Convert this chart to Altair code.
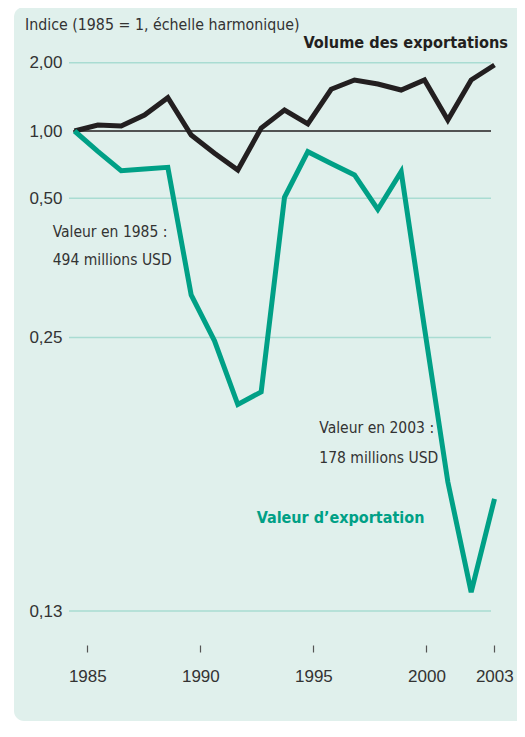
import altair as alt
import pandas as pd

# ---- data ----
years = list(range(1985, 2004))
volume_exportations = [1.00, 1.063, 1.052, 1.176, 1.402, 0.960, 0.795, 0.669, 1.030,
                       1.237, 1.074, 1.527, 1.678, 1.611, 1.516, 1.678, 1.118, 1.678, 1.954]
valeur_exportation = [1.00, 0.811, 0.664, 0.676, 0.688, 0.309, 0.248, 0.213, 0.2195,
                      0.505, 0.808, 0.716, 0.636, 0.473, 0.658, 0.262, 0.177, 0.136, 0.170]
y_ticks = [0.13, 0.25, 0.5, 1, 2]
x_ticks = [1985, 1990, 1995, 2000, 2003]
series_names = ["Volume des exportations", "Valeur d\u2019exportation"]
title_text = "Indice (1985 = 1, \u00e9chelle harmonique)"
note_1985 = ["Valeur en 1985 :", "494 millions USD"]
note_2003 = ["Valeur en 2003 :", "178 millions USD"]

# ---- styles ----
BLACK = "#231f20"
GREEN = "#00a086"
BOX = "#e0f0ec"
GRID = "#a9dcd2"
TXT = "#333333"
NARROW = "DejaVu Sans Condensed, sans-serif"
SANS = "Liberation Sans, Arial, sans-serif"

long = pd.DataFrame({
    "year": years * 2,
    "v": volume_exportations + valeur_exportation,
    "series": [series_names[0]] * len(years) + [series_names[1]] * len(years),
})

yscale = alt.Scale(type="log", domain=y_ticks, range=[571, 297.5, 158.3, 91, 22.7])
xscale = alt.Scale(domain=[1985, 2003], range=[5.5, 425.5], nice=False, zero=False)

one = pd.DataFrame({"a": [0]})

box = alt.Chart(one).mark_rect(color=BOX, cornerRadius=10).encode(
    x=alt.value(-55), x2=alt.value(470), y=alt.value(-33), y2=alt.value(681)
)

grid_df = pd.DataFrame({"v": [t for t in y_ticks if t != 1]})
grid = alt.Chart(grid_df).mark_rule(color=GRID, strokeWidth=1.5).encode(
    y=alt.Y("v:Q", scale=yscale, title=None,
            axis=alt.Axis(values=y_ticks, grid=False, domain=False, ticks=False, labelPadding=7,
                          labelFont=SANS, labelFontSize=17, labelColor=TXT, zindex=1,
                          labelExpr="replace(format(datum.value, '.2f'), '.', ',')")),
    x=alt.value(0), x2=alt.value(422),
)

base_rule = alt.Chart(pd.DataFrame({"v": [1]})).mark_rule(color=BLACK, strokeWidth=1.5).encode(
    y=alt.Y("v:Q", scale=yscale), x=alt.value(4), x2=alt.value(422)
)

lines = alt.Chart(long).mark_line(strokeWidth=5, strokeJoin="miter", strokeCap="butt").encode(
    x=alt.X("year:Q", scale=xscale, axis=None),
    y=alt.Y("v:Q", scale=yscale),
    color=alt.Color("series:N", scale=alt.Scale(domain=series_names, range=[BLACK, GREEN]), legend=None),
    detail="series:N",
    order="year:Q",
)

xaxis = alt.Chart(pd.DataFrame({"year": x_ticks})).mark_point(opacity=0).encode(
    x=alt.X("year:Q", title=None,
            scale=alt.Scale(domain=[1985, 2003], range=[18.3, 425.3], nice=False, zero=False),
            axis=alt.Axis(values=x_ticks, format="d", domain=False, grid=False, ticks=True,
                          tickSize=7, tickColor="#555555", tickWidth=1.2, labelPadding=16,
                          labelFont=SANS, labelFontSize=17, labelColor=TXT, labelFlush=False,
                          zindex=1)),
    y=alt.value(300),
)

def txt(s, x, y, align="left", baseline="middle", size=15.5, weight="normal", color=TXT, font=NARROW):
    return alt.Chart(one).mark_text(text=s, align=align, baseline=baseline, fontSize=size,
                                    fontWeight=weight, color=color, font=font).encode(
        x=alt.value(x), y=alt.value(y))

texts = [
    txt(title_text, -44, -15, size=15.8),
    txt(series_names[0], 439, 8.3, align="right", baseline="alphabetic", size=16.2, weight="bold", color=BLACK),
    txt(note_1985[0], -16.3, 191.7),
    txt(note_1985[1], -16.3, 220),
    txt(note_2003[0], 250.3, 388.3),
    txt(note_2003[1], 250.3, 418.3),
    txt(series_names[1], 187.7, 478.3, size=16, weight="bold", color=GREEN),
]

chart = alt.layer(box, grid, base_rule, lines, xaxis, *texts).resolve_scale(
    x="independent"
).properties(
    width=422, height=605,
    autosize=alt.AutoSizeParams(type="none"),
    padding={"left": 61, "top": 32, "right": 26, "bottom": 77},
).configure(background="white").configure_view(stroke=None)

chart.save("out.html", embed_options={"renderer": "svg", "actions": False})
